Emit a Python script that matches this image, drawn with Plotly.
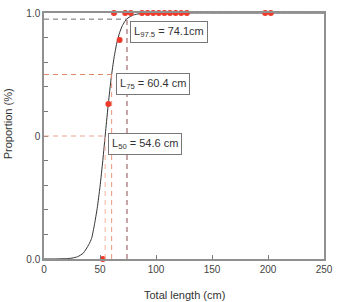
import plotly.graph_objects as go

# Observed proportions (red points)
obs_len = [52.5, 57.5, 62.5, 67.5, 72.5, 77.5, 87.5, 92.5, 97.5, 102.5, 107.5,
           112.5, 117.5, 122.5, 127.5, 197.5, 202.5]
obs_prop = [0.0, 0.63, 1.0, 0.89, 1.0, 1.0, 1.0, 1.0, 1.0, 1.0, 1.0,
            1.0, 1.0, 1.0, 1.0, 1.0, 1.0]

# Fitted maturity curve
curve_len = [0, 10, 20, 25, 30, 35, 40, 42.5, 45, 47.5, 50, 52.5, 55, 57.5, 60,
             62.5, 65, 67.5, 70, 72.5, 75, 80, 85, 90, 100, 120, 150, 200, 250]
curve_prop = [0.0, 0.0002, 0.0014, 0.0036, 0.0093, 0.0236, 0.0588, 0.084, 0.139,
              0.206, 0.294, 0.40, 0.519, 0.634, 0.736, 0.817, 0.878, 0.920,
              0.949, 0.968, 0.980, 0.992, 0.997, 0.9988, 0.9998, 1.0, 1.0, 1.0, 1.0]

# Reference lengths
ref_p = [0.5, 0.75, 0.975]
ref_len = [54.6, 60.4, 74.1]
ref_lab = ["L<sub>50</sub> = 54.6 cm", "L<sub>75</sub> = 60.4 cm", "L<sub>97.5</sub> = 74.1cm"]
h_colors = ["#f2a48e", "#d98a66", "#6e6e6e"]
v_colors = ["#f4b3a2", "#ea9478", "#8e4a52"]
lab_pos_x = [57.5, 64.0, 76.5]
lab_pos_y = [0.513, 0.755, 0.966]

yticks = [0.0, 0.5, 1.0]
ytext = ["0.0", "0", "1.0"]
xticks = [0, 50, 100, 150, 200, 250]

fig = go.Figure()

shapes = []
for p, L, hc, vc in zip(ref_p, ref_len, h_colors, v_colors):
    shapes.append(dict(type="line", xref="x", yref="y", x0=0, x1=L, y0=p, y1=p,
                       line=dict(color=hc, width=1, dash="5px,4px"), layer="above"))
    shapes.append(dict(type="line", xref="x", yref="y", x0=L, x1=L, y0=0, y1=p,
                       line=dict(color=vc, width=1, dash="5px,4px"), layer="above"))

fig.add_trace(go.Scatter(x=curve_len, y=curve_prop, mode="lines",
                         line=dict(color="#333333", width=1, shape="spline", smoothing=0.6),
                         hoverinfo="skip", showlegend=False))
fig.add_trace(go.Scatter(x=obs_len, y=obs_prop, mode="markers",
                         marker=dict(color="#ee3a2a", size=6),
                         cliponaxis=False, showlegend=False))

annotations = []
for t, ax_, ay_ in zip(ref_lab, lab_pos_x, lab_pos_y):
    annotations.append(dict(x=ax_, y=ay_, xref="x", yref="y", text=t, showarrow=False,
                            xanchor="left", yanchor="top", align="left",
                            font=dict(family="Liberation Sans, Arial", size=11, color="#333333"),
                            bgcolor="white", bordercolor="#777777", borderwidth=1, borderpad=3))
annotations.append(dict(x=0.5, y=-0.147, xref="paper", yref="paper", text="Total length (cm)",
                        showarrow=False, xanchor="center", yanchor="middle",
                        font=dict(family="Liberation Sans, Arial", size=11, color="#333333")))
annotations.append(dict(x=-0.13, y=0.55, xref="paper", yref="paper", text="Proportion (%)",
                        textangle=-90, showarrow=False, xanchor="center", yanchor="middle",
                        font=dict(family="Liberation Sans, Arial", size=11, color="#333333")))

fig.update_layout(
    width=340, height=302,
    margin=dict(l=44, r=7, t=12, b=43),
    paper_bgcolor="white", plot_bgcolor="white",
    shapes=shapes, annotations=annotations,
    showlegend=False,
    font=dict(family="Liberation Sans, Arial", size=10, color="#444444"),
)
fig.update_xaxes(range=[0, 250], tickvals=xticks, ticktext=[str(v) for v in xticks],
                 ticks="inside", ticklen=4, tickcolor="#777777",
                 showline=True, linecolor="#909090", linewidth=1.5, mirror=True,
                 showgrid=False, zeroline=False, fixedrange=True)
fig.update_yaxes(range=[0, 1], tickvals=yticks, ticktext=ytext,
                 ticks="inside", ticklen=4, tickcolor="#777777",
                 minor=dict(ticks="inside", tick0=0, dtick=0.1, ticklen=4,
                            tickcolor="#777777", showgrid=False),
                 showline=True, linecolor="#909090", linewidth=1.5, mirror=True,
                 showgrid=False, zeroline=False, fixedrange=True)

fig.write_html("out.html", config={"displayModeBar": False})
